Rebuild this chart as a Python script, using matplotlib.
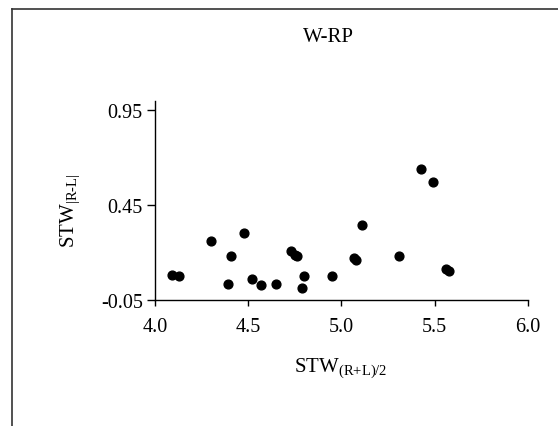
import matplotlib
matplotlib.use("Agg")
import matplotlib.pyplot as plt
from matplotlib.lines import Line2D

# STW mean vs. STW asymmetry, W-RP group
stw_mean = [4.09, 4.13, 4.30, 4.39, 4.41, 4.48, 4.52, 4.57, 4.65, 4.73, 4.75, 4.76,
            4.80, 4.79, 4.95, 5.07, 5.08, 5.11, 5.31, 5.43, 5.49, 5.56, 5.58]
stw_diff = [0.082, 0.075, 0.257, 0.031, 0.180, 0.301, 0.057, 0.025, 0.033, 0.204, 0.185, 0.178,
            0.076, 0.013, 0.076, 0.168, 0.159, 0.346, 0.180, 0.639, 0.569, 0.111, 0.101]
x_ticks = [4.0, 4.5, 5.0, 5.5, 6.0]
y_ticks = [-0.05, 0.45, 0.95]

plt.rcParams["font.family"] = "Liberation Serif"
plt.rcParams["mathtext.fontset"] = "custom"
plt.rcParams["mathtext.rm"] = "Liberation Serif"
plt.rcParams["mathtext.it"] = "Liberation Serif"

W, H = 558, 427
fig = plt.figure(figsize=(W / 100, H / 100), dpi=100)

# outer frame (only top and left visible)
fig.add_artist(Line2D([12 / W, 12 / W], [0, 1 - 10 / H], transform=fig.transFigure,
                      color="#333333", lw=1.2))
fig.add_artist(Line2D([12 / W, 1], [1 - 10 / H, 1 - 10 / H], transform=fig.transFigure,
                      color="#333333", lw=1.2))

ax = fig.add_axes([155 / W, 1 - 300.5 / H, (527.7 - 155) / W, (300.5 - 101.7) / H])
ax.scatter(stw_mean, stw_diff, s=40, color="black", zorder=3, clip_on=False)
ax.set_xlim(4.0, 6.0)
ax.set_ylim(-0.05, 1.0)
ax.set_xticks(x_ticks)
ax.set_xticklabels([f"{v:.1f}" for v in x_ticks])
ax.set_yticks(y_ticks)
ax.set_yticklabels([f"{v:.2f}" for v in y_ticks])
for s in ("top", "right"):
    ax.spines[s].set_visible(False)
for s in ("left", "bottom"):
    ax.spines[s].set_linewidth(1.0)
ax.tick_params(axis="x", direction="out", length=4.3, width=1.0, pad=8, labelsize=14.5)
ax.tick_params(axis="y", direction="out", length=5.8, width=1.0, pad=3, labelsize=14.5)

fig.text(328 / W, 1 - 37 / H, "W-RP", ha="center", va="center", fontsize=15)
fig.text(341 / W, 1 - 372 / H, r"STW$_{\text{(R+L)/2}}$", ha="center", va="baseline",
         fontsize=15)
fig.text(74 / W, 1 - 211 / H, r"STW$_{\text{|R-L|}}$", ha="center", va="baseline",
         rotation=90, rotation_mode="anchor", fontsize=15)

fig.savefig("out.png", dpi=100)
